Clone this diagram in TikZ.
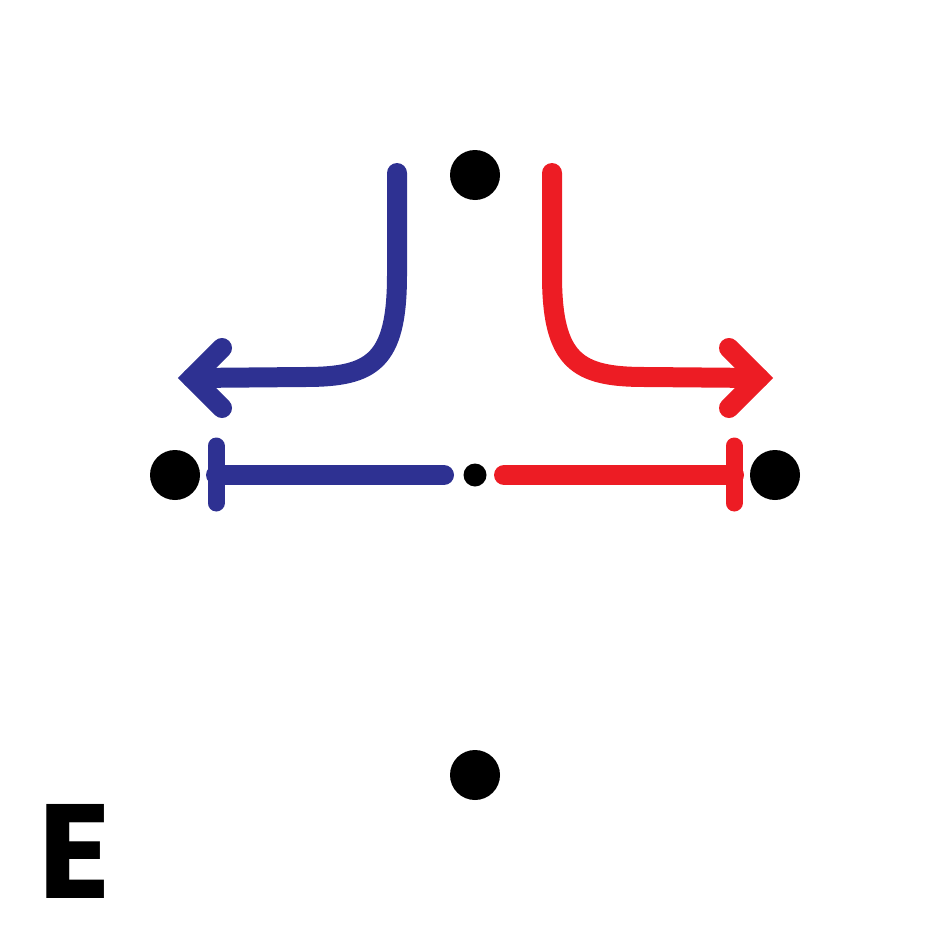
\documentclass[tikz,border=0pt]{standalone}
\usepackage{fontspec}
\newfontfamily\letterfont{Poppins}
\definecolor{myblue}{HTML}{2E3192}
\definecolor{myred}{HTML}{ED1C24}
\begin{document}
\begin{tikzpicture}[x=1pt,y=-1pt,
  dot/.style={circle,fill=black,inner sep=0pt,minimum size=50pt},
  smalldot/.style={circle,fill=black,inner sep=0pt,minimum size=23pt},
  stroke/.style={line width=20pt,line cap=round},
  barstroke/.style={line width=17pt,line cap=round},
  headstroke/.style={line width=20pt,line cap=round,line join=miter}]
\useasboundingbox (0,0) rectangle (950,950);
\node[dot] (top) at (475,175) {};
\node[dot] (left) at (175,475) {};
\node[dot] (right) at (775,475) {};
\node[dot] (bottom) at (475,775) {};
\node[smalldot] (center) at (475,475) {};
% blue T-line
\coordinate (bl1) at (444,475);
\coordinate (bl2) at (216,475);
\coordinate (blb1) at (216,446);
\coordinate (blb2) at (216,503);
\draw[stroke,myblue] (bl1) -- (bl2);
\draw[barstroke,myblue] (blb1) -- (blb2);
% red T-line
\coordinate (rl1) at (504,475);
\coordinate (rl2) at (734,475);
\coordinate (rlb1) at (734,446);
\coordinate (rlb2) at (734,503);
\draw[stroke,myred] (rl1) -- (rl2);
\draw[barstroke,myred] (rlb1) -- (rlb2);
% blue bent arrow
\coordinate (ba0) at (397,173);
\coordinate (ba1) at (397,275);
\coordinate (ba2) at (305,377);
\coordinate (batip) at (192,378);
\draw[stroke,myblue] (ba0) -- (ba1) .. controls (397,362) and (372,377) .. (ba2) -- (batip);
\draw[headstroke,myblue] (222,348) -- (batip) -- (222,408);
% red bent arrow
\coordinate (ra0) at (552,173);
\coordinate (ra1) at (552,275);
\coordinate (ra2) at (645,377);
\coordinate (ratip) at (759,378);
\draw[stroke,myred] (ra0) -- (ra1) .. controls (552,362) and (578,377) .. (ra2) -- (ratip);
\draw[headstroke,myred] (729,348) -- (ratip) -- (729,408);
% label
\node[anchor=base west,inner sep=0pt] (label) at (38,898) {\letterfont\bfseries\fontsize{134}{134}\selectfont E};
\end{tikzpicture}
\end{document}
